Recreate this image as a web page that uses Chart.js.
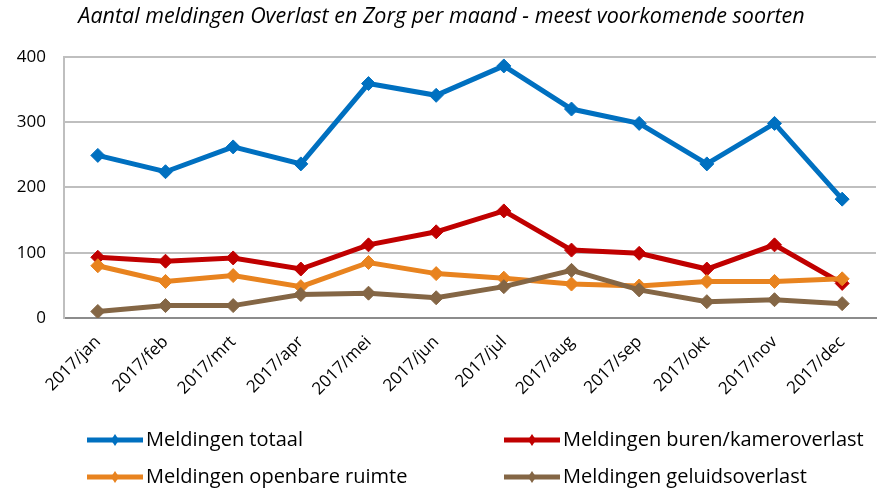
<!DOCTYPE html>
<html><head><meta charset="utf-8">
<script src="https://cdn.jsdelivr.net/npm/chart.js@4"></script>
<style>html,body{margin:0;padding:0;background:#fff}#wrap{width:884px;height:488px}</style>
</head><body><div id="wrap"><canvas id="c" width="884" height="488"></canvas></div>
<script>
const months = ['2017/jan','2017/feb','2017/mrt','2017/apr','2017/mei','2017/jun','2017/jul','2017/aug','2017/sep','2017/okt','2017/nov','2017/dec'];
const totaal = [249,224,262,236,359,341,386,320,298,236,298,182];
const buren = [93,87,92,75,112,132,164,104,99,75,112,53];
const openbare = [80,56,65,48,85,68,61,52,49,56,56,60];
const geluid = [10,19,19,36,38,31,48,73,43,25,28,22];
const yTicks = [0,100,200,300,400];
const titleText = 'Aantal meldingen Overlast en Zorg per maand - meest voorkomende soorten';
const FONT = '"Open Sans", sans-serif';

function ds(label, data, color, order){
  return {label, data, borderColor: color, backgroundColor: color, borderWidth: 5,
    pointStyle: 'rectRot', pointRadius: 7, pointHoverRadius: 7, pointBorderWidth: 1,
    pointBorderColor: color, pointBackgroundColor: color, tension: 0, order};
}

const legendPlugin = {
  id: 'customLegend',
  afterDraw(chart){
    const ctx = chart.ctx;
    const pos = [[87,440],[504,440],[87,477],[504,477]];
    ctx.save();
    ctx.font = '20px ' + FONT;
    ctx.textBaseline = 'middle';
    chart.data.datasets.forEach((d,i)=>{
      const [x,y] = pos[i];
      ctx.strokeStyle = d.borderColor; ctx.lineWidth = 5;
      ctx.beginPath(); ctx.moveTo(x,y); ctx.lineTo(x+56,y); ctx.stroke();
      ctx.fillStyle = d.borderColor;
      ctx.beginPath(); ctx.moveTo(x+28,y-6); ctx.lineTo(x+32,y); ctx.lineTo(x+28,y+6); ctx.lineTo(x+24,y); ctx.closePath(); ctx.fill();
      ctx.fillStyle = '#000';
      ctx.fillText(d.label, x+59, y);
    });
    ctx.restore();
  }
};

new Chart(document.getElementById('c'), {
  type: 'line',
  data: { labels: months, datasets: [
    ds('Meldingen totaal', totaal, '#0070c0', 4),
    ds('Meldingen buren/kameroverlast', buren, '#c00000', 3),
    ds('Meldingen openbare ruimte', openbare, '#e8831f', 2),
    ds('Meldingen geluidsoverlast', geluid, '#846645', 1)
  ]},
  options: {
    responsive: false, animation: false,
    layout: { padding: { left: 0, right: 1, top: 0, bottom: 0 } },
    plugins: {
      legend: { display: false },
      tooltip: { enabled: false },
      title: { display: true, text: titleText, color: '#000',
        font: { family: FONT, size: 21.5, style: 'italic', weight: 'normal' },
        padding: { top: 4, bottom: 27 } }
    },
    scales: {
      x: { offset: true,
        grid: { display: false, drawTicks: false },
        border: { display: true, color: '#8c8c8c', width: 2 },
        ticks: { color: '#000', font: { family: FONT, size: 17 }, minRotation: 45, maxRotation: 45, padding: 14, autoSkip: false },
        afterFit(s){ s.height = 170; }
      },
      y: { min: 0, max: 400,
        afterBuildTicks(s){ s.ticks = yTicks.map(v=>({value:v})); },
        grid: { color: '#bfbfbf', lineWidth: 2, drawTicks: false },
        border: { display: true, color: '#bfbfbf', width: 2 },
        ticks: { color: '#000', font: { family: FONT, size: 17 }, padding: 18 },
        afterFit(s){ s.width = 64; }
      }
    }
  },
  plugins: [legendPlugin]
});
</script></body></html>
